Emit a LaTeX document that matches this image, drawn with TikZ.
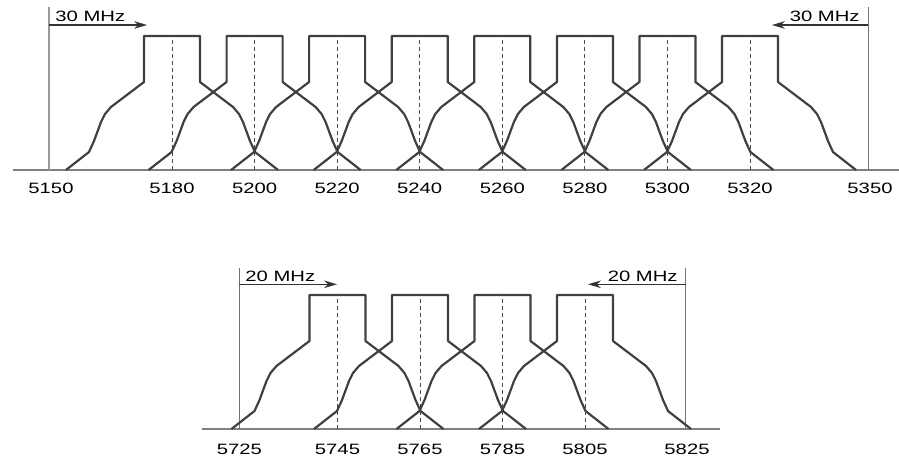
\documentclass[tikz,border=0pt]{standalone}
\usepackage{fontspec}
\newfontfamily\lblfont[FakeStretch=1.35]{Liberation Sans}
\usetikzlibrary{arrows.meta}
\tikzset{
  chan/.style={draw=black!75,line width=1.1pt,line join=round},
  cent/.style={draw=black!70,line width=0.5pt,dash pattern=on 2pt off 1.5pt},
  axis/.style={draw=black!50,line width=0.7pt},
  edge/.style={draw=black!55,line width=0.5pt},
  dim/.style={draw=black!80,line width=0.55pt},
  lbl/.style={font=\lblfont\fontsize{7.5}{8}\selectfont,text=black,inner sep=0pt},
}
\begin{document}
\begin{tikzpicture}[x=0.5pt,y=0.5pt,>={Stealth[length=6.5pt,width=3.8pt]}]
\useasboundingbox (0,0) rectangle (899,461);
% upper band, 5150-5350
\coordinate (ua) at (13,291);
\coordinate (ub) at (899,291);
\draw[axis](ua)--(ub);
\coordinate (l5150) at (49,291);
\coordinate (t5150) at (49,454);
\coordinate (l5350) at (868,291);
\coordinate (t5350) at (868,454);
\draw[draw=black!40,line width=1pt](l5150)--(t5150);
\draw[edge](l5350)--(t5350);
\node[lbl,anchor=base] (n5150) at (51,267) {5150};
\node[lbl,anchor=base] (n5350) at (870,267) {5350};
\foreach \c/\f in {172/5180,254.6/5200,337.1/5220,419.7/5240,502.3/5260,584.9/5280,667.4/5300,750/5320}{
  \begin{scope}[shift={(\c,291)}]
    \draw[chan](-106,0)--(-83,18)--(-78,29)--(-71,48)--(-67,56)--(-61,63)--(-28,88)--(-28,134)
      --(28,134)--(28,88)--(61,63)--(67,56)--(71,48)--(78,29)--(83,18)--(106,0);
    \draw[cent](0,0)--(0,134);
  \end{scope}
  \node[lbl,anchor=base] (n\f) at (\c,267) {\f};
}
\coordinate (a1) at (49,436);
\coordinate (a2) at (147,436);
\coordinate (a3) at (868,436);
\coordinate (a4) at (772,436);
\draw[dim,->](a1)--(a2);
\draw[dim,->](a3)--(a4);
\node[lbl,anchor=base west] (m30l) at (55,439.5) {30 MHz};
\node[lbl,anchor=base east] (m30r) at (860,439.5) {30 MHz};

% lower band, 5725-5825
\coordinate (la) at (202,32);
\coordinate (lb) at (720,32);
\draw[axis](la)--(lb);
\coordinate (l5725) at (239.3,32);
\coordinate (t5725) at (239.3,193);
\coordinate (l5825) at (685.5,32);
\coordinate (t5825) at (685.5,193);
\draw[edge](l5725)--(t5725);
\draw[edge](l5825)--(t5825);
\node[lbl,anchor=base] (n5725) at (239.3,6.5) {5725};
\node[lbl,anchor=base] (n5825) at (687,6.5) {5825};
\foreach \c/\f in {337.5/5745,420/5765,502.5/5785,585/5805}{
  \begin{scope}[shift={(\c,32)}]
    \draw[chan](-106,0)--(-83,18)--(-78,29)--(-71,48)--(-67,56)--(-61,63)--(-28,88)--(-28,134)
      --(28,134)--(28,88)--(61,63)--(67,56)--(71,48)--(78,29)--(83,18)--(106,0);
    \draw[cent](0,0)--(0,134);
  \end{scope}
  \node[lbl,anchor=base] (n\f) at (\c,6.5) {\f};
}
\coordinate (b1) at (239.3,176.7);
\coordinate (b2) at (337,176.7);
\coordinate (b3) at (685.5,176.7);
\coordinate (b4) at (588,176.7);
\draw[dim,->](b1)--(b2);
\draw[dim,->](b3)--(b4);
\node[lbl,anchor=base west] (m20l) at (245,179.5) {20 MHz};
\node[lbl,anchor=base east] (m20r) at (678,179.5) {20 MHz};
\end{tikzpicture}
\end{document}
